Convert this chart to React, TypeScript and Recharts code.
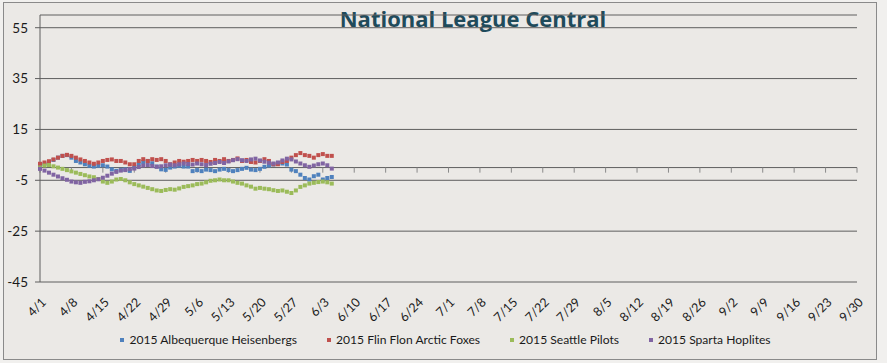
import {
  ComposedChart,
  Line,
  XAxis,
  YAxis,
  CartesianGrid,
  ReferenceLine,
  Legend,
} from 'recharts';

// week labels along the bottom, one every 7 days starting 4/1
const weekLabels = [
  '4/1', '4/8', '4/15', '4/22', '4/29', '5/6', '5/13', '5/20', '5/27',
  '6/3', '6/10', '6/17', '6/24', '7/1', '7/8', '7/15', '7/22', '7/29',
  '8/5', '8/12', '8/19', '8/26', '9/2', '9/9', '9/16', '9/23', '9/30',
];
const yTicks = [-45, -25, -5, 15, 35, 55];

// games over .500, one value per day from 4/1
const heisenbergs = [
  0.9, 1.3, 2, 3, 3.9, 4.6, 4.9, 3.9, 2.6, 2,
  1.3, 0.7, 0.4, 0.7, 0.9, 0.4, -0.7, -1.3, -0.9, -0.7,
  -1.3, 0, 1.3, 2.2, 2.6, 1.7, 0.4, -0.7, -0.9, 0,
  0.4, 0.7, 0.4, 0.4, -1.4, -1, -1.4, -0.8, -1, -1.4,
  -0.8, -0.5, -1, -1.4, -1, -0.5, -0.1, -0.8, -1, -0.5,
  0.3, 0.8, 1.2, 1.8, 1.6, 1.2, -0.8, -1.4, -2.8, -4.1,
  -4.7, -3.4, -2.8, -4.7, -4.1, -3.7,
];
const arcticFoxes = [
  1.5, 2, 2.5, 3.2, 3.9, 4.6, 5, 4.6, 3.9, 3.2,
  2.6, 2, 1.5, 2, 2.6, 3, 3.2, 2.6, 2.6, 2,
  1.3, 1.3, 2.6, 3.3, 2.6, 3.3, 3, 3.3, 2.6, 1.3,
  2, 2.6, 2.3, 2.6, 3, 2.6, 3, 2.6, 2.2, 3,
  2.6, 3.3, 2.6, 3, 3.6, 2.6, 3, 2.2, 2, 2.6,
  3.3, 2.6, 1.3, 1.3, 2.2, 2.6, 3.9, 4.9, 5.7, 4.9,
  4.6, 3.9, 4.9, 5.3, 4.6, 4.6,
];
const seattlePilots = [
  0, 0.8, 1, 0.5, 0, -0.5, -1, -1.5, -2, -2.5,
  -3, -3.5, -3.8, -4.5, -5.5, -6, -5.5, -4.7, -4.5, -5,
  -5.8, -6.5, -7, -7.5, -8, -8.5, -9, -9.2, -8.8, -8.5,
  -8.7, -8.2, -7.6, -7.3, -7, -6.5, -6.3, -5.8, -5.2, -5,
  -4.7, -5, -5, -5.5, -6, -6.3, -7, -7.5, -8.3, -8,
  -8.3, -8.5, -8.9, -9.2, -9, -9.5, -10, -9, -7.6, -7,
  -6.3, -6, -5.7, -5.5, -5.8, -6.3,
];
const spartaHoplites = [
  -0.5, -1.2, -2, -2.8, -3.5, -4.2, -4.8, -5.5, -5.8, -6,
  -5.6, -5.4, -5, -4.6, -4, -3.2, -2.4, -1.7, -1.2, -1,
  -0.6, -0.4, 0.2, 0.8, 1, 0.6, 0.3, 0.5, 0.9, 1.2,
  0.9, 1.3, 1.6, 1.4, 1.2, 1.6, 1.3, 1, 1.5, 1.8,
  2.2, 1.8, 2.4, 2.9, 3.3, 2.9, 2.6, 3.2, 3.5, 2.8,
  2.3, 1.9, 1.6, 2, 2.8, 3.5, 3.2, 2.4, 1.6, 0.9,
  0.3, 0.8, 1.3, 1.6, 0.9, -0.4,
];

const series = [
  { key: 'heis', name: '2015 Albequerque Heisenbergs', color: '#4f81bd' },
  { key: 'flin', name: '2015 Flin Flon Arctic Foxes', color: '#c0504d' },
  { key: 'sea', name: '2015 Seattle Pilots', color: '#9bbb59' },
  { key: 'spa', name: '2015 Sparta Hoplites', color: '#8064a2' },
];

const rows = heisenbergs.map((v, i) => ({
  day: i,
  heis: v,
  flin: arcticFoxes[i],
  sea: seattlePilots[i],
  spa: spartaHoplites[i],
}));

const weekTicks = weekLabels.map((_, i) => i * 7);

const FONT = 'Lato, "Open Sans", sans-serif';
const GRID = '#5e5e5e';

function DateTick({ x, y, payload }: any) {
  const label = weekLabels[Math.round(payload.value / 7)];
  const ax = x + 7;
  const ay = y + 13;
  return (
    <text
      x={ax}
      y={ay}
      transform={`rotate(-45 ${ax} ${ay})`}
      textAnchor="end"
      fontSize={12.5}
      fontFamily={FONT}
      fill="#1a1a1a"
    >
      {label}
    </text>
  );
}

function squareDot(color: string) {
  return (p: any) => {
    if (p.cx == null || p.cy == null) return <g key={p.key} />;
    return (
      <rect
        key={p.key}
        x={p.cx - 2}
        y={p.cy - 2}
        width={4}
        height={4}
        fill={color}
      />
    );
  };
}

function LegendContent() {
  return (
    <div
      style={{
        display: 'flex',
        justifyContent: 'center',
        gap: 30,
        paddingLeft: 34,
        fontFamily: FONT,
        fontSize: 12.1,
        color: '#1a1a1a',
        lineHeight: '20px',
      }}
    >
      {series.map((s) => (
        <span key={s.key} style={{ display: 'flex', alignItems: 'center' }}>
          <span
            style={{
              display: 'inline-block',
              width: 4,
              height: 4,
              background: s.color,
              marginRight: 5,
            }}
          />
          {s.name}
        </span>
      ))}
    </div>
  );
}

export default function App() {
  return (
    <div
      style={{
        position: 'absolute',
        left: 0,
        top: 0,
        width: 887,
        height: 363,
        background: '#f1f0ee',
      }}
    >
      <div
        style={{
          position: 'absolute',
          left: 3,
          top: 2,
          width: 872,
          height: 356,
          border: '1px solid #8a8a8a',
          background: '#ebe9e6',
        }}
      />
      <div
        style={{
          position: 'absolute',
          left: 0,
          top: 4,
          width: 946,
          textAlign: 'center',
          fontFamily: '"Open Sans", sans-serif',
          fontWeight: 700,
          fontSize: 22,
          color: '#1f4b5b',
          lineHeight: '28px',
        }}
      >
        National League Central
      </div>
      <ComposedChart
        width={887}
        height={363}
        data={rows}
        margin={{ top: 15, right: 30, bottom: 13, left: 0 }}
        style={{ position: 'absolute', left: 0, top: 0 }}
      >
        <CartesianGrid vertical={false} stroke={GRID} />
        <XAxis
          dataKey="day"
          type="number"
          domain={[0, 182]}
          ticks={weekTicks}
          interval={0}
          axisLine={false}
          tickLine={false}
          height={48}
          tick={<DateTick />}
        />
        <YAxis
          type="number"
          domain={[-45, 60]}
          ticks={yTicks}
          interval={0}
          width={40}
          tickSize={5}
          tickMargin={7}
          axisLine={{ stroke: GRID }}
          tickLine={{ stroke: GRID }}
          tick={{ fontSize: 13.5, fontFamily: FONT, fill: '#1a1a1a' }}
        />
        <ReferenceLine y={0} stroke={GRID} />
        {weekTicks.map((d) => (
          <ReferenceLine
            key={`wk-${d}`}
            segment={[
              { x: d, y: 0 },
              { x: d, y: -2 },
            ]}
            stroke="#8a8a8a"
          />
        ))}
        {series.map((s) => (
          <Line
            key={s.key}
            dataKey={s.key}
            name={s.name}
            stroke="none"
            dot={squareDot(s.color)}
            activeDot={false}
            isAnimationActive={false}
          />
        ))}
        <Legend verticalAlign="bottom" height={20} content={<LegendContent />} />
      </ComposedChart>
    </div>
  );
}
